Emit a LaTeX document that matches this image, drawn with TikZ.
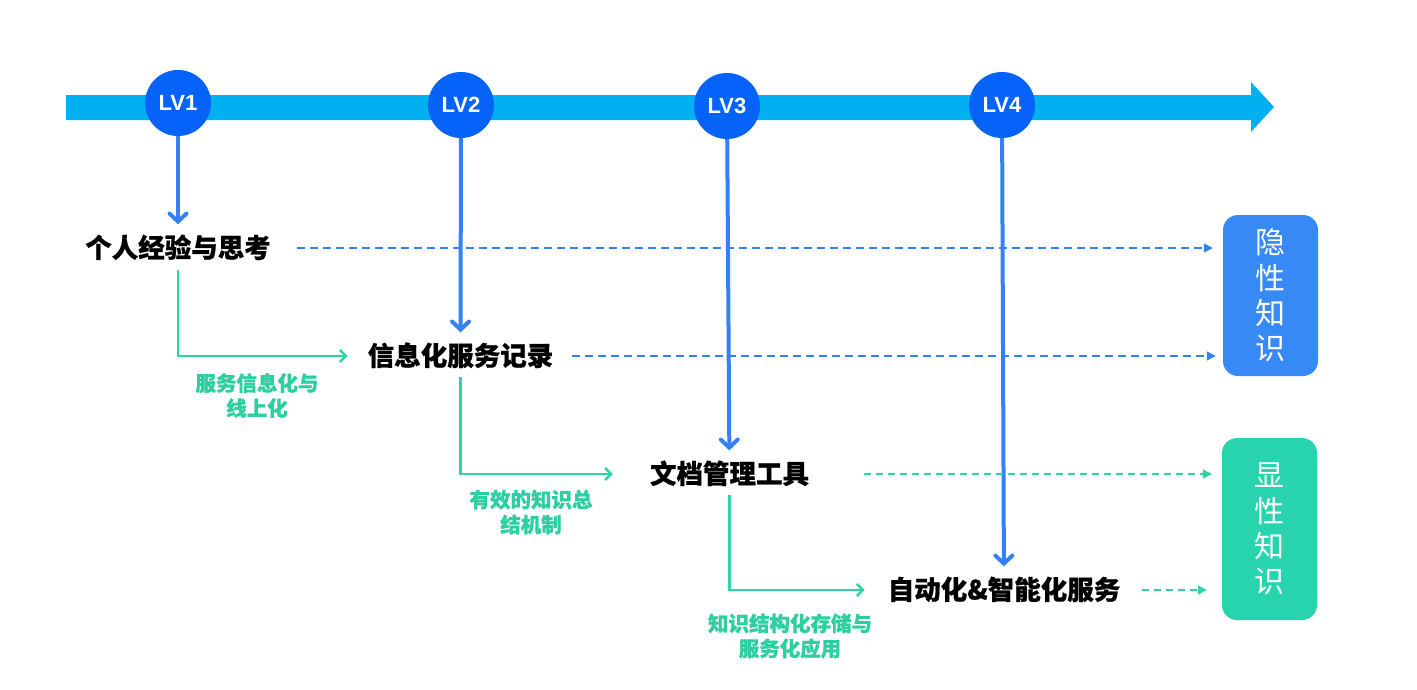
\documentclass[tikz,border=0pt]{standalone}
\usepackage{fontspec}
\setmainfont{Liberation Sans}
\newfontfamily\cjk{Noto Sans CJK SC}[BoldFeatures={FakeBold=0.6}]
\usetikzlibrary{arrows.meta}
\definecolor{barc}{HTML}{00B0F0}
\definecolor{lvfill}{HTML}{0563FA}
\definecolor{arrblue}{HTML}{3580F6}
\definecolor{boxblue}{HTML}{3789F6}
\definecolor{boxgreen}{HTML}{27D4AD}
\definecolor{linegreen}{HTML}{2ED4A8}
\definecolor{textgreen}{HTML}{2DCFA2}
\begin{document}
\begin{tikzpicture}[x=1pt,y=-1pt,
  lvc/.style={circle,fill=lvfill,minimum size=66pt,inner sep=0pt,text=white,
    font=\bfseries\fontsize{22}{24}\selectfont},
  mainlbl/.style={inner sep=0pt,text height=22pt,text depth=3pt,
    font=\cjk\bfseries\fontsize{26.5}{30}\selectfont},
  glbl/.style={inner sep=0pt,align=center,text=textgreen,
    font=\cjk\bfseries\fontsize{20.5}{25}\selectfont},
  kbox/.style={rounded corners=15pt,minimum width=95pt,inner sep=0pt,align=center,text=white,
    font=\cjk\fontsize{30}{35.3}\selectfont},
  bluearr/.style={draw=arrblue,line width=4pt,shorten >=11pt,
    -{Straight Barb[length=8pt,width=17pt,line cap=round]}},
  grarr/.style={draw=linegreen,line width=2.5pt,
    -{Straight Barb[length=6pt,width=12pt]}},
  dashb/.style={draw=arrblue,line width=1.5pt,dash pattern=on 8pt off 5pt,
    -{Triangle[length=9pt,width=9pt]}},
  dashg/.style={draw=linegreen,line width=1.5pt,dash pattern=on 7pt off 5pt,
    -{Triangle[length=9pt,width=9pt]}}
]
\useasboundingbox (0,0) rectangle (1417,689);
\fill[white] (0,0) rectangle (1417,689);

% timeline bar
\fill[barc] (66,95) -- (1251,95) -- (1251,82) -- (1274,107) -- (1251,132) -- (1251,120) -- (66,120) -- cycle;

% level circles
\node[lvc] (lv1) at (178,103) {LV1};
\node[lvc] (lv2) at (461,105) {LV2};
\node[lvc] (lv3) at (727,106) {LV3};
\node[lvc] (lv4) at (1002,105) {LV4};

% stage labels
\node[mainlbl] (t1) at (178,248) {个人经验与思考};
\node[mainlbl] (t2) at (460.5,356) {信息化服务记录};
\node[mainlbl] (t3) at (729.5,474) {文档管理工具};
\node[mainlbl] (t4) at (1004,590) {自动化\&智能化服务};

% knowledge boxes
\node[kbox,fill=boxblue,minimum height=161pt] (k1) at (1270.5,295.5) {隐\\性\\知\\识};
\node[kbox,fill=boxgreen,minimum height=182pt] (k2) at (1269.5,529) {显\\性\\知\\识};

% green labels
\node[glbl] (g1) at (257,395.5) {服务信息化与\\线上化};
\node[glbl] (g2) at (531,512) {有效的知识总\\结机制};
\node[glbl] (g3) at (790,636) {知识结构化存储与\\服务化应用};

% vertical blue arrows
\draw[bluearr] (lv1) -- (t1);
\draw[bluearr] (lv2) -- (t2);
\draw[bluearr] (lv3) -- (t3);
\draw[bluearr] (lv4) -- (t4);

% green elbow arrows
\draw[grarr,shorten <=9pt,shorten >=20pt] (t1.south) |- (t2.west);
\draw[grarr,shorten <=8.5pt,shorten >=37pt] (t2.south) |- (t3.west);
\draw[grarr,shorten <=8.5pt,shorten >=23pt] (t3.south) |- (t4.west);

% dashed arrows to boxes
\draw[dashb,shorten <=26pt,shorten >=10pt] (t1.east) -- (t1.east -| k1.west);
\draw[dashb,shorten <=19pt,shorten >=7pt] (t2.east) -- (t2.east -| k1.west);
\draw[dashg,shorten <=55pt,shorten >=10pt] (t3.east) -- (t3.east -| k2.west);
\draw[dashg,shorten <=22pt,shorten >=15pt] (t4.east) -- (t4.east -| k2.west);
\end{tikzpicture}
\end{document}
